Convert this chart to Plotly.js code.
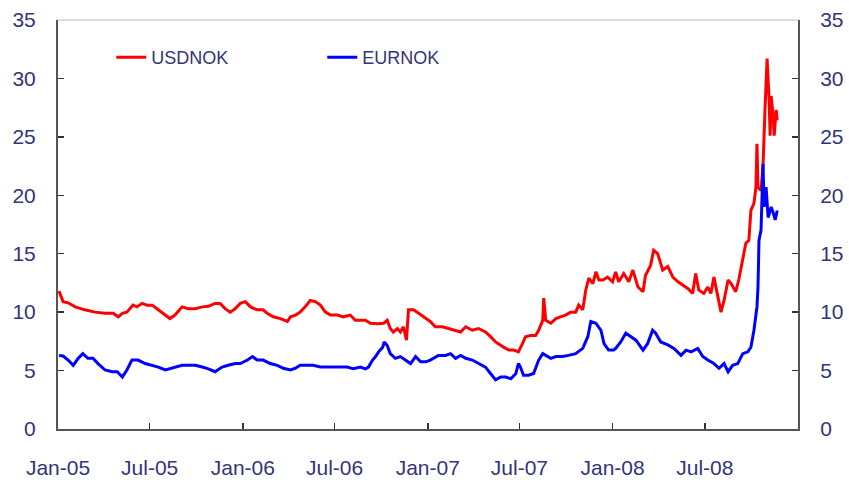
<!DOCTYPE html>
<html>
<head>
<meta charset="utf-8">
<script src="https://cdn.plot.ly/plotly-3.0.1.min.js"></script>
<style>html,body{margin:0;padding:0;background:#fff;}#chart{width:849px;height:485px;}</style>
</head>
<body>
<div id="chart"></div>
<script>
// USDNOK (red)
var usdDates = [
"2005-01-03","2005-01-11","2005-01-21","2005-02-04","2005-02-23","2005-03-15","2005-04-04","2005-04-20","2005-04-30","2005-05-08","2005-05-17","2005-05-29","2005-06-06","2005-06-16","2005-06-26","2005-07-06","2005-07-18","2005-08-01","2005-08-10","2005-08-20","2005-09-03","2005-09-15","2005-09-29","2005-10-13","2005-10-25","2005-11-07","2005-11-17","2005-11-27","2005-12-07","2005-12-17","2005-12-27",
"2006-01-06","2006-01-16","2006-01-29","2006-02-10","2006-02-18","2006-03-02","2006-03-16","2006-03-30","2006-04-05","2006-04-15","2006-04-24","2006-05-04","2006-05-14","2006-05-24","2006-06-03","2006-06-13","2006-06-23","2006-07-07","2006-07-18","2006-08-01","2006-08-11","2006-08-21","2006-08-31","2006-09-10","2006-09-24","2006-10-06","2006-10-13","2006-10-19","2006-10-25","2006-11-02","2006-11-08","2006-11-14","2006-11-20","2006-11-24","2006-12-04","2006-12-14","2006-12-24",
"2007-01-06","2007-01-16","2007-01-30","2007-02-11","2007-02-25","2007-03-07","2007-03-17","2007-03-30","2007-04-11","2007-04-25","2007-05-05","2007-05-15","2007-05-29","2007-06-10","2007-06-20","2007-06-29","2007-07-07","2007-07-13","2007-07-23","2007-08-02","2007-08-08","2007-08-16","2007-08-18","2007-08-22","2007-09-01","2007-09-11","2007-09-20","2007-09-30","2007-10-10","2007-10-20","2007-10-26","2007-11-03","2007-11-09","2007-11-15","2007-11-23","2007-11-29","2007-12-05","2007-12-13","2007-12-22",
"2008-01-01","2008-01-07","2008-01-13","2008-01-23","2008-02-02","2008-02-10","2008-02-20","2008-03-01","2008-03-06","2008-03-16","2008-03-22","2008-03-30","2008-04-09","2008-04-19","2008-04-29","2008-05-09","2008-05-19","2008-05-29","2008-06-07","2008-06-13","2008-06-19","2008-06-29","2008-07-07","2008-07-13","2008-07-19","2008-07-27","2008-08-02","2008-08-08","2008-08-16","2008-08-22","2008-08-31","2008-09-06","2008-09-14","2008-09-20","2008-09-26","2008-09-30","2008-10-06","2008-10-10","2008-10-12","2008-10-14","2008-10-20","2008-10-24","2008-10-28","2008-11-01","2008-11-05","2008-11-07","2008-11-09","2008-11-13","2008-11-15","2008-11-19","2008-11-21"
];
var usdValues = [
11.8,10.9,10.8,10.45,10.2,10.0,9.9,9.9,9.6,9.9,10.0,10.6,10.45,10.75,10.6,10.6,10.2,9.75,9.45,9.75,10.45,10.3,10.3,10.45,10.5,10.75,10.75,10.3,10.0,10.3,10.75,
10.9,10.45,10.2,10.2,9.9,9.6,9.45,9.2,9.6,9.75,10.0,10.45,11.0,10.9,10.6,10.0,9.75,9.75,9.6,9.75,9.3,9.3,9.3,9.05,9.0,9.05,9.3,8.6,8.3,8.6,8.3,8.75,7.6,10.2,10.2,9.9,9.6,
9.2,8.75,8.75,8.6,8.45,8.3,8.75,8.45,8.6,8.3,7.9,7.45,7.05,6.75,6.75,6.6,7.3,7.9,8.0,8.0,8.45,9.3,11.2,9.3,9.05,9.45,9.6,9.75,10.0,10.0,10.6,10.2,11.9,12.9,12.45,13.45,12.75,12.75,13.0,
12.6,13.45,12.6,13.3,12.6,13.6,12.15,11.75,13.15,14.0,15.3,15.0,13.6,13.9,13.0,12.6,12.3,12.0,11.6,13.3,11.9,11.6,12.15,11.6,13.0,11.3,10.0,11.0,12.75,12.45,11.75,12.75,14.45,15.9,16.15,18.7,19.3,20.7,24.4,20.7,20.4,22.6,27.5,31.7,28.1,25.1,28.5,26.8,25.1,27.3,26.4
];

// EURNOK (blue)
var eurDates = [
"2005-01-03","2005-01-11","2005-01-21","2005-01-31","2005-02-10","2005-02-19","2005-03-01","2005-03-11","2005-03-21","2005-04-04","2005-04-18","2005-04-28","2005-05-08","2005-05-17","2005-05-27","2005-06-08","2005-06-22","2005-07-06","2005-07-18","2005-08-01","2005-08-10","2005-08-20","2005-09-03","2005-09-15","2005-09-29","2005-10-13","2005-10-25","2005-11-07","2005-11-21","2005-12-03","2005-12-17","2005-12-27",
"2006-01-10","2006-01-20","2006-01-29","2006-02-10","2006-02-24","2006-03-10","2006-03-22","2006-04-05","2006-04-15","2006-04-24","2006-05-08","2006-05-20","2006-06-03","2006-06-17","2006-06-29","2006-07-13","2006-07-26","2006-08-07","2006-08-21","2006-08-31","2006-09-06","2006-09-14","2006-09-20","2006-09-26","2006-10-04","2006-10-07","2006-10-13","2006-10-19","2006-10-29","2006-11-08","2006-11-18","2006-11-28","2006-12-08","2006-12-18","2006-12-28",
"2007-01-06","2007-01-22","2007-02-05","2007-02-15","2007-02-25","2007-03-07","2007-03-17","2007-03-30","2007-04-11","2007-04-25","2007-05-05","2007-05-15","2007-05-25","2007-06-04","2007-06-14","2007-06-24","2007-06-29","2007-07-03","2007-07-09","2007-07-19","2007-07-29","2007-08-08","2007-08-16","2007-08-22","2007-09-01","2007-09-11","2007-09-24","2007-10-06","2007-10-20","2007-11-03","2007-11-13","2007-11-19","2007-11-29","2007-12-09","2007-12-15","2007-12-24",
"2008-01-03","2008-01-07","2008-01-17","2008-01-27","2008-02-06","2008-02-16","2008-03-01","2008-03-10","2008-03-20","2008-03-26","2008-04-05","2008-04-19","2008-05-01","2008-05-15","2008-05-25","2008-06-04","2008-06-17","2008-06-27","2008-07-07","2008-07-19","2008-07-29","2008-08-08","2008-08-16","2008-08-25","2008-09-04","2008-09-14","2008-09-24","2008-09-30","2008-10-06","2008-10-12","2008-10-14","2008-10-16","2008-10-20","2008-10-22","2008-10-24","2008-10-26","2008-10-30","2008-11-03","2008-11-09","2008-11-13","2008-11-17","2008-11-21"
];
var eurValues = [
6.3,6.25,5.9,5.45,6.05,6.45,6.05,6.05,5.6,5.05,4.9,4.9,4.45,5.05,5.9,5.9,5.6,5.45,5.3,5.05,5.15,5.3,5.45,5.45,5.45,5.3,5.15,4.9,5.3,5.45,5.6,5.6,
5.9,6.2,5.9,5.9,5.6,5.45,5.2,5.05,5.2,5.45,5.45,5.45,5.3,5.3,5.3,5.3,5.3,5.15,5.3,5.15,5.3,5.9,6.2,6.6,7.0,7.45,7.15,6.45,6.05,6.2,5.9,5.6,6.2,5.75,5.75,
5.9,6.3,6.3,6.45,6.05,6.3,6.05,5.9,5.6,5.3,4.75,4.2,4.45,4.45,4.3,4.75,5.6,5.3,4.6,4.6,4.75,5.9,6.45,6.3,6.05,6.2,6.2,6.3,6.45,6.9,7.9,9.2,9.05,8.45,7.3,6.75,
6.75,6.9,7.45,8.2,7.9,7.6,6.75,7.3,8.45,8.2,7.45,7.2,6.9,6.3,6.75,6.6,6.9,6.2,5.9,5.6,5.2,5.6,4.9,5.45,5.6,6.45,6.6,7.0,8.45,10.45,12.15,16.15,17.0,19.85,22.7,19.0,20.7,18.1,19.0,18.5,17.9,18.7
];

var seriesNames = ["USDNOK", "EURNOK"];
var yTicks = [0, 5, 10, 15, 20, 25, 30, 35];
var xTickVals = ["2005-01-01","2005-07-01","2006-01-01","2006-07-01","2007-01-01","2007-07-01","2008-01-01","2008-07-01"];
var xTickText = ["Jan-05","Jul-05","Jan-06","Jul-06","Jan-07","Jul-07","Jan-08","Jul-08"];

var textColor = "#34347a";
var traces = [
  {x: usdDates, y: usdValues, name: seriesNames[0], type: "scatter", mode: "lines",
   line: {color: "rgb(255,0,0)", width: 3}},
  {x: eurDates, y: eurValues, name: seriesNames[1], type: "scatter", mode: "lines",
   line: {color: "rgb(0,0,255)", width: 3}},
  {x: [], y: [], yaxis: "y2", showlegend: false, hoverinfo: "skip", type: "scatter"}
];

var axisFont = {family: "Liberation Sans, Arial, sans-serif", size: 21, color: textColor};
var layout = {
  width: 849, height: 485,
  margin: {l: 58, r: 51, t: 20, b: 56, pad: 0},
  paper_bgcolor: "#ffffff", plot_bgcolor: "#ffffff",
  showlegend: true,
  legend: {orientation: "h", x: 0.072, xanchor: "left", y: 0.908, yanchor: "middle",
    font: {family: "Liberation Sans, Arial, sans-serif", size: 18, color: textColor},
    bgcolor: "rgba(0,0,0,0)", entrywidth: 166, entrywidthmode: "pixels", traceorder: "normal"},
  xaxis: {type: "date", range: ["2005-01-01", "2009-01-01"], tickvals: xTickVals, ticktext: xTickText,
    showgrid: false, zeroline: false, showline: true, linecolor: "#555", linewidth: 2,
    ticks: "inside", ticklen: 6, tickwidth: 1.5, tickcolor: "#333", tickfont: axisFont, ticklabelstandoff: 19},
  yaxis: {range: [0, 35], tickvals: yTicks, showgrid: false, zeroline: false, showline: true,
    linecolor: "#555", linewidth: 2, ticks: "inside", ticklen: 6, tickwidth: 1.5, tickcolor: "#333",
    tickfont: axisFont, ticklabelstandoff: 16},
  yaxis2: {range: [0, 35], tickvals: yTicks, overlaying: "y", side: "right", showgrid: false, zeroline: false,
    showline: true, linecolor: "#555", linewidth: 2, ticks: "inside", ticklen: 6, tickwidth: 1.5, tickcolor: "#333",
    tickfont: axisFont, ticklabelstandoff: 16},
  shapes: [{type: "line", xref: "paper", yref: "paper", x0: 0, x1: 1, y0: 1, y1: 1,
    line: {color: "#dddddd", width: 2}}]
};

Plotly.newPlot("chart", traces, layout, {staticPlot: true, displayModeBar: false});
</script>
</body>
</html>
